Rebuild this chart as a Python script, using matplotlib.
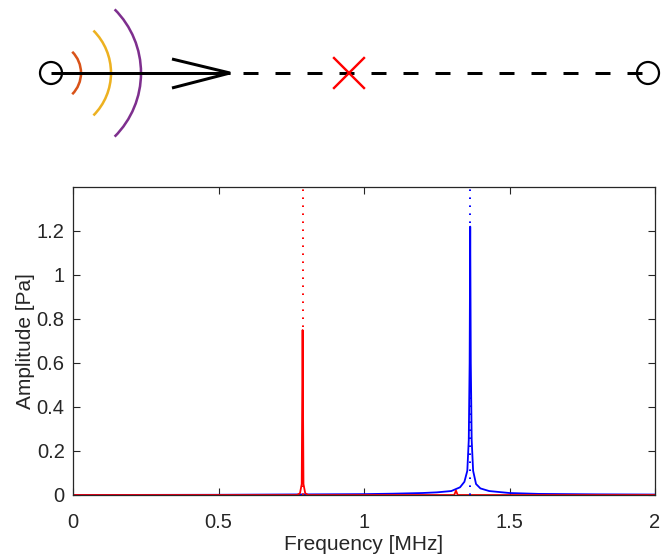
import numpy as np
import matplotlib
matplotlib.use("Agg")
import matplotlib.pyplot as plt
from matplotlib.patches import Arc, Circle

plt.rcParams['font.family'] = ['Liberation Sans', 'DejaVu Sans']
plt.rcParams['lines.scale_dashes'] = False

W, H, DPI = 661, 558, 100
PT = 72 / DPI  # points per pixel
TXT = '#262626'

# Spectra (frequency in MHz, amplitude in Pa)
blue_freq = [0.0, 0.5, 1.0, 1.1, 1.2, 1.25, 1.3, 1.33, 1.345, 1.355, 1.360,
             1.363, 1.365, 1.367, 1.370, 1.375, 1.385, 1.40, 1.43, 1.5, 1.6,
             1.8, 2.0]
blue_amp = [0.0, 0.001, 0.004, 0.006, 0.009, 0.012, 0.018, 0.035, 0.06,
            0.11, 0.25, 0.6, 1.22, 0.6, 0.25, 0.11, 0.05, 0.03, 0.018, 0.009,
            0.005, 0.003, 0.002]

red_freq = [0.0, 0.770, 0.780, 0.786, 0.789, 0.792, 0.798, 0.808, 1.30,
            1.310, 1.316, 1.322, 1.33, 2.0]
red_amp = [0.0, 0.0, 0.008, 0.05, 0.75, 0.05, 0.008, 0.0, 0.0,
           0.0, 0.02, 0.0, 0.0, 0.0]

# Resonance frequencies marked by dotted guides
red_res = 0.789
blue_res = 1.365

xticks = [0, 0.5, 1, 1.5, 2]
xtick_labels = ['0', '0.5', '1', '1.5', '2']
yticks = [0, 0.2, 0.4, 0.6, 0.8, 1.0, 1.2]
ytick_labels = ['0', '0.2', '0.4', '0.6', '0.8', '1', '1.2']

fig = plt.figure(figsize=(W / DPI, H / DPI), dpi=DPI)

# ---- Schematic: source, propagation path and receiver (pixel units) ----
top_h = 160
ax0 = fig.add_axes([0, 1 - top_h / H, 1, top_h / H])
ax0.set_xlim(0, W)
ax0.set_ylim(top_h, 0)
ax0.axis('off')

src = (51, 73)
rcv = (648, 73)
tip = 230
lw_px = 3.0 * PT

ax0.plot([src[0], tip], [src[1], src[1]], color='k', lw=lw_px, solid_capstyle='butt')
ax0.plot([172, tip, 172], [59, 73, 88], color='k', lw=lw_px,
         solid_joinstyle='miter', solid_capstyle='butt')
ax0.plot([243, rcv[0]], [73, 73], color='k', lw=lw_px,
         dashes=(15 * PT, 17 * PT), dash_capstyle='butt')
for c in (src, rcv):
    ax0.add_patch(Circle(c, 11, fill=False, ec='k', lw=1.6))

for r, col in [(30, '#D95319'), (60, '#EDB120'), (90, '#7E2F8E')]:
    ax0.add_patch(Arc(src, 2 * r, 2 * r, theta1=-45, theta2=45,
                      color=col, lw=lw_px * 0.85))

xc, yc, s = 349, 73, 15
ax0.plot([xc - s, xc + s], [yc - s, yc + s], color='r', lw=lw_px * 0.8)
ax0.plot([xc - s, xc + s], [yc + s, yc - s], color='r', lw=lw_px * 0.8)

# ---- Spectrum ----
L, R, B, T = 73, 655, 495, 187
ax = fig.add_axes([L / W, (H - B) / H, (R - L) / W, (B - T) / H])
ax.plot(blue_freq, blue_amp, color='b', lw=1.3)
ax.plot(red_freq, red_amp, color='r', lw=1.3)
dots = (1.6 * PT, 6.4 * PT)
ax.axvline(red_res, color='r', lw=1.4, dashes=dots)
ax.axvline(blue_res, color='b', lw=1.4, dashes=dots)

ax.set_xlim(0, 2)
ax.set_ylim(0, 1.4)
ax.set_xticks(xticks)
ax.set_xticklabels(xtick_labels)
ax.set_yticks(yticks)
ax.set_yticklabels(ytick_labels)
ax.tick_params(direction='in', length=5, width=0.8, colors=TXT,
               labelsize=14.5, top=True, right=True)
ax.tick_params(axis='x', pad=13)
ax.tick_params(axis='y', pad=6)
for sp in ax.spines.values():
    sp.set_color(TXT)
    sp.set_linewidth(0.9)
ax.set_xlabel('Frequency [MHz]', fontsize=15, color=TXT, labelpad=2)
ax.set_ylabel('Amplitude [Pa]', fontsize=15, color=TXT)
ax.yaxis.set_label_coords(-0.066, 0.5)

fig.savefig('out.png', dpi=DPI)
